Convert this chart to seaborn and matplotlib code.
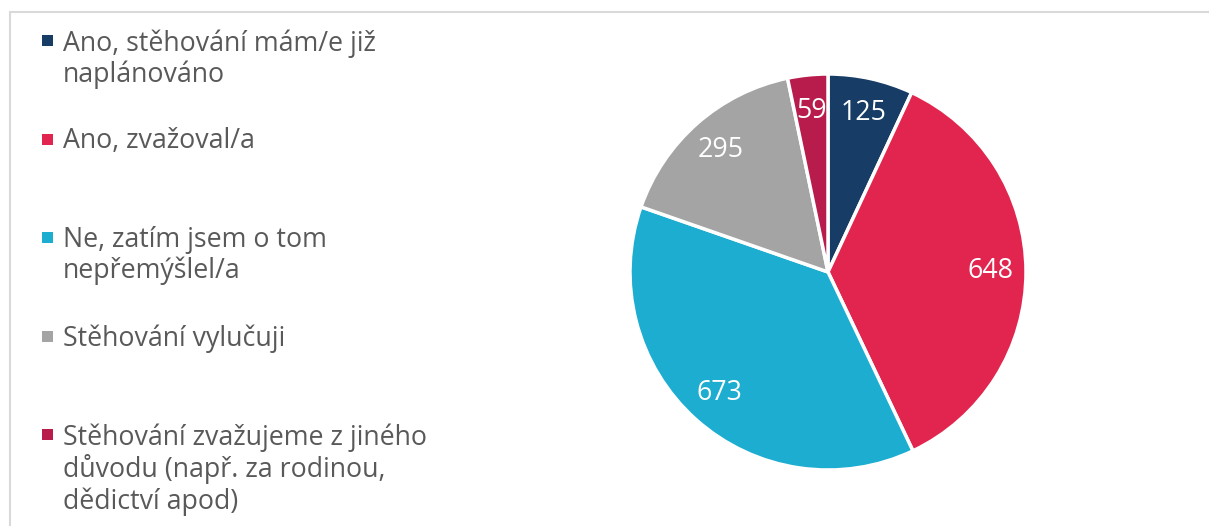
import matplotlib
matplotlib.use("Agg")
import matplotlib.pyplot as plt
from matplotlib.patches import Rectangle
import seaborn as sns

# ------------------ DATA ------------------

categories = [
    "Ano, stěhování mám/e již\nnaplánováno",
    "Ano, zvažoval/a",
    "Ne, zatím jsem o tom\nnepřemýšlel/a",
    "Stěhování vylučuji",
    "Stěhování zvažujeme z jiného\ndůvodu (např. za rodinou,\ndědictví apod)",
]
counts = [125, 648, 673, 295, 59]
colors = ["#173C65", "#E2254F", "#1DADD0", "#A5A4A5", "#B71C4D"]

# ------------------ STYLE ------------------

sns.set_theme(style="white")
plt.rcParams["font.family"] = ["Open Sans", "DejaVu Sans"]
TEXT = "#595959"

W, H = 1209, 526
fig = plt.figure(figsize=(W / 100, H / 100), dpi=100)

# frame (top + left edges visible)
fig.add_artist(Rectangle((10 / W, -0.1), 1.2, (H - 12) / H + 0.1,
                         transform=fig.transFigure, fill=False,
                         edgecolor="#D9D9D9", linewidth=1.5))

# ------------------ PIE ------------------

cx, cy, r = 828, 272, 198
ax = fig.add_axes([(cx - r) / W, (H - cy - r) / H, 2 * r / W, 2 * r / H])

wedges, _, autotexts = ax.pie(
    counts,
    colors=colors,
    startangle=90,
    counterclock=False,
    radius=1,
    autopct=lambda p: f"{p * sum(counts) / 100:.0f}",
    pctdistance=0.82,
    wedgeprops=dict(edgecolor="white", linewidth=2.5),
    textprops=dict(color="white", fontsize=19.3),
)
ax.set_xlim(-1, 1)
ax.set_ylim(-1, 1)
ax.set_aspect("equal")
ax.axis("off")

# ------------------ LEGEND ------------------

for i, (lab, col) in enumerate(zip(categories, colors)):
    base = 49 + 98.5 * i
    fig.add_artist(Rectangle((42 / W, 1 - (base - 3) / H), 11 / W, 11 / H,
                             transform=fig.transFigure, facecolor=col,
                             edgecolor="none"))
    fig.text(63 / W, 1 - (base - 20) / H, lab, fontsize=19.3, color=TEXT,
             ha="left", va="top", linespacing=1.13)

fig.savefig("out.png", dpi=100)
